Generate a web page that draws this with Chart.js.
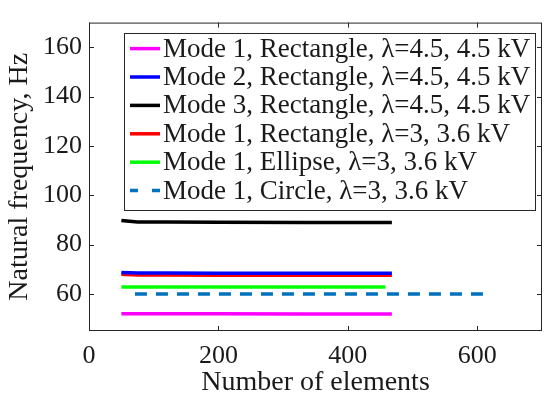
<!DOCTYPE html>
<html>
<head>
<meta charset="utf-8">
<script src="https://cdn.jsdelivr.net/npm/chart.js@4/dist/chart.umd.min.js"></script>
<style>
  html, body { margin: 0; padding: 0; background: #fff; }
  #wrap { width: 550px; height: 399px; }
</style>
</head>
<body>
<div id="wrap"><canvas id="grafico"></canvas></div>
<script>
// Dados
const xMalha = [50, 75, 120, 200, 330, 468];
const modo1Ret45 = [52.0, 52.0, 52.0, 52.0, 51.9, 51.9];
const modo2Ret45 = [68.7, 68.5, 68.5, 68.4, 68.4, 68.4];
const modo3Ret45 = [89.8, 89.2, 89.2, 89.1, 89.0, 89.0];
const modo1Ret3 = [68.0, 67.7, 67.7, 67.6, 67.6, 67.6];
const xElipse = [50, 100, 200, 300, 458];
const modo1Elipse = [62.8, 62.8, 62.8, 62.8, 62.8];
const xCirculo = [71, 150, 250, 350, 450, 620];
const modo1Circulo = [60.0, 60.0, 60.0, 60.0, 60.0, 60.0];
const ticksX = [0, 200, 400, 600];
const ticksY = [60, 80, 100, 120, 140, 160];

const rotulos = [
  "Mode 1, Rectangle, \u03bb=4.5, 4.5 kV",
  "Mode 2, Rectangle, \u03bb=4.5, 4.5 kV",
  "Mode 3, Rectangle, \u03bb=4.5, 4.5 kV",
  "Mode 1, Rectangle, \u03bb=3, 3.6 kV",
  "Mode 1, Ellipse, \u03bb=3, 3.6 kV",
  "Mode 1, Circle, \u03bb=3, 3.6 kV"
];

const fonte = "Liberation Serif";
const corEixo = "#262626";
const corTexto = "#1a1a1a";

function pares(xs, ys) {
  return xs.map((x, i) => ({ x: x, y: ys[i] }));
}

function serie(label, xs, ys, cor, tracejado) {
  return {
    label: label,
    data: pares(xs, ys),
    borderColor: cor,
    backgroundColor: cor,
    borderWidth: 3.5,
    borderDash: tracejado ? [12, 9] : [],
    showLine: true,
    pointRadius: 0,
    tension: 0
  };
}

// caixa com ticks internos e legenda desenhada dentro da área
const caixaPlugin = {
  id: "caixa",
  afterDraw(chart) {
    const ctx = chart.ctx;
    const a = chart.chartArea;
    const sx = chart.scales.x, sy = chart.scales.y;
    ctx.save();
    ctx.strokeStyle = corEixo;
    ctx.lineWidth = 1;
    ctx.setLineDash([]);
    ctx.strokeRect(a.left + 0.5, a.top + 0.5, a.right - a.left - 1, a.bottom - a.top - 1);
    const tl = 5;
    ctx.beginPath();
    ticksX.forEach(v => {
      const p = Math.round(sx.getPixelForValue(v)) + 0.5;
      ctx.moveTo(p, a.bottom); ctx.lineTo(p, a.bottom - tl);
      ctx.moveTo(p, a.top); ctx.lineTo(p, a.top + tl);
    });
    ticksY.forEach(v => {
      const p = Math.round(sy.getPixelForValue(v)) + 0.5;
      ctx.moveTo(a.left, p); ctx.lineTo(a.left + tl, p);
      ctx.moveTo(a.right, p); ctx.lineTo(a.right - tl, p);
    });
    ctx.stroke();

    // legenda
    ctx.font = "27px '" + fonte + "'";
    let larg = 0;
    chart.data.datasets.forEach(d => { larg = Math.max(larg, ctx.measureText(d.label).width); });
    const bx = a.left + 35, by = a.top + 10;
    const passo = 28.4;
    const bw = 39 + larg + 5;
    const bh = passo * 6 + 7;
    ctx.fillStyle = "#fff";
    ctx.fillRect(bx, by, bw, bh);
    ctx.strokeStyle = corEixo;
    ctx.strokeRect(Math.round(bx) + 0.5, Math.round(by) + 0.5, Math.round(bw), Math.round(bh));
    ctx.textBaseline = "middle";
    ctx.textAlign = "left";
    chart.data.datasets.forEach((d, i) => {
      const yy = by + 16 + i * passo;
      ctx.strokeStyle = d.borderColor;
      ctx.lineWidth = 3.5;
      ctx.setLineDash(d.borderDash.length ? [8, 14] : []);
      ctx.beginPath();
      ctx.moveTo(bx + 6, yy); ctx.lineTo(bx + 36, yy);
      ctx.stroke();
      ctx.fillStyle = corTexto;
      ctx.fillText(d.label, bx + 39, yy + 1);
    });
    ctx.restore();
  }
};

new Chart(document.getElementById("grafico"), {
  type: "scatter",
  data: {
    datasets: [
      serie(rotulos[0], xMalha, modo1Ret45, "#ff00ff", false),
      serie(rotulos[1], xMalha, modo2Ret45, "#0000ff", false),
      serie(rotulos[2], xMalha, modo3Ret45, "#000000", false),
      serie(rotulos[3], xMalha, modo1Ret3, "#ff0000", false),
      serie(rotulos[4], xElipse, modo1Elipse, "#00ff00", false),
      serie(rotulos[5], xCirculo, modo1Circulo, "#0072bd", true)
    ]
  },
  options: {
    responsive: true,
    maintainAspectRatio: false,
    animation: false,
    layout: { padding: { left: 0, top: 7, right: 8, bottom: 0 } },
    plugins: { legend: { display: false }, tooltip: { enabled: false } },
    scales: {
      x: {
        type: "linear",
        min: 0, max: 700,
        afterBuildTicks: s => { s.ticks = ticksX.map(v => ({ value: v })); },
        afterFit: s => { s.height = 68; },
        grid: { display: false, drawTicks: false },
        border: { display: false },
        ticks: { color: corTexto, padding: 10, font: { family: fonte, size: 26 } },
        title: { display: true, text: "Number of elements", color: corTexto, padding: 0, font: { family: fonte, size: 28 } }
      },
      y: {
        type: "linear",
        min: 45, max: 170,
        afterBuildTicks: s => { s.ticks = ticksY.map(v => ({ value: v })); },
        afterFit: s => { s.width = 89; },
        grid: { display: false, drawTicks: false },
        border: { display: false },
        ticks: { color: corTexto, padding: 7, font: { family: fonte, size: 26 } },
        title: { display: true, text: "Natural frequency, Hz", color: corTexto, padding: { top: 3, bottom: 0 }, font: { family: fonte, size: 28 } }
      }
    }
  },
  plugins: [caixaPlugin]
});
</script>
</body>
</html>
